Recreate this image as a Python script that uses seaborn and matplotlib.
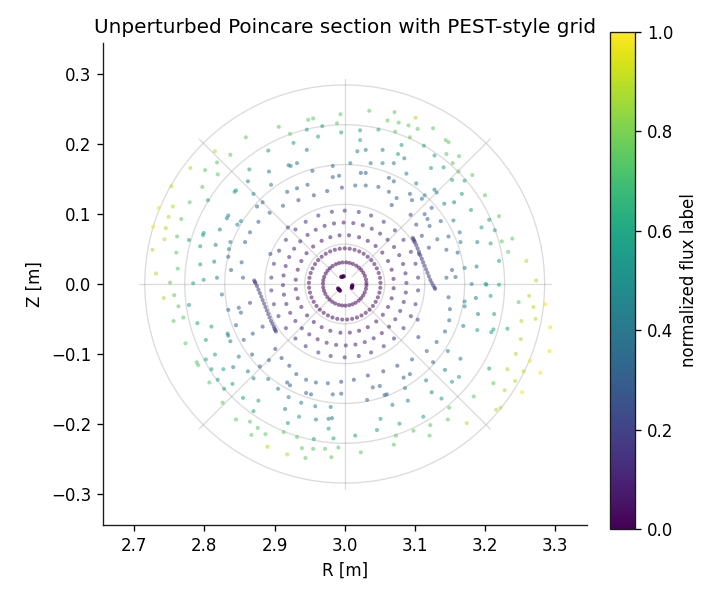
import numpy as np
import pandas as pd
import matplotlib
matplotlib.use("Agg")
import matplotlib.pyplot as plt
import seaborn as sns

# magnetic axis and minor radius of the PEST grid [m]
R_axis = 3.0
a_grid = 0.285
grid_rho = [0.2, 0.4, 0.6, 0.8, 1.0]
grid_theta_deg = [0, 45, 90, 135, 180, 225, 270, 315]

# 3-island chain close to the axis (flux label ~0)
island_R = [2.9948, 2.9955, 2.9962, 2.9969, 2.9976, 2.9983, 2.9990,
            2.9903, 2.9908, 2.9914, 2.9919, 2.9924, 2.9930, 2.9935,
            3.0110, 3.0109, 3.0107, 3.0105, 3.0103, 3.0101, 3.0100]
island_Z = [0.0100, 0.0102, 0.0104, 0.0106, 0.0108, 0.0109, 0.0110,
            -0.0062, -0.0068, -0.0074, -0.0080, -0.0086, -0.0092, -0.0098,
            -0.0015, -0.0022, -0.0030, -0.0037, -0.0044, -0.0052, -0.0060]
island_psi = 0.0

# inner closed surfaces: minor radius, flux label, poloidal angles of punctures [deg]
ringA_r, ringA_psi = 0.031, 0.015
ringA_theta = [3, 12, 22, 31, 40, 49, 58, 68, 77, 86, 96, 105, 114, 124, 133, 142,
               151, 161, 170, 179, 189, 198, 207, 217, 226, 235, 244, 254, 263, 272,
               282, 291, 300, 310, 319, 328, 337, 347, 356]
ringB_r, ringB_psi = 0.051, 0.035
ringB_theta = [2, 10, 18, 26, 34, 42, 50, 58, 66, 74, 82, 90, 98, 106, 114, 122, 130,
               138, 146, 154, 162, 170, 178, 186, 194, 202, 210, 218, 226, 234, 242,
               250, 258, 266, 274, 282, 290, 298, 306, 314, 322, 330, 338, 346, 354]
ringC_r, ringC_psi = 0.070, 0.06
ringC_theta = [6, 17, 28, 40, 51, 62, 73, 85, 96, 107, 118, 130, 141, 152, 163, 175,
               186, 197, 208, 220, 231, 242, 253, 265, 276, 287, 298, 310, 321, 332,
               343, 355]
ringD_r, ringD_psi = 0.088, 0.095
ringD_theta = [1, 10, 19, 28, 37, 46, 55, 64, 73, 82, 91, 100, 109, 118, 127, 136,
               145, 154, 163, 172, 181, 190, 199, 208, 217, 226, 235, 244, 253, 262,
               271, 280, 289, 298, 307, 316, 325, 334, 343, 352]
ringE_r, ringE_psi = 0.105, 0.135
ringE_theta = [5, 16, 26, 37, 47, 58, 69, 79, 90, 100, 111, 122, 132, 143, 153, 164,
               175, 185, 196, 206, 217, 228, 238, 249, 259, 270, 281, 291, 302, 312,
               323, 334, 344, 355]

# two slow strands near the 2-island separatrix
strand_psi = 0.18
strand_R = [3.097, 3.098, 3.099, 3.100, 3.102, 3.104, 3.106, 3.108, 3.110, 3.112,
            3.114, 3.116, 3.118, 3.120, 3.122, 3.124, 3.126, 3.128, 3.129,
            2.871, 2.872, 2.873, 2.875, 2.877, 2.879, 2.881, 2.883, 2.885, 2.887,
            2.889, 2.891, 2.893, 2.895, 2.897, 2.899, 2.900, 2.901, 2.902]
strand_Z = [0.066, 0.064, 0.062, 0.060, 0.056, 0.051, 0.046, 0.041, 0.036, 0.031,
            0.026, 0.021, 0.016, 0.011, 0.006, 0.002, -0.002, -0.005, -0.007,
            0.005, 0.003, 0.001, -0.003, -0.008, -0.013, -0.018, -0.023, -0.028, -0.033,
            -0.038, -0.043, -0.048, -0.053, -0.057, -0.061, -0.064, -0.066, -0.068]

# outer punctures, grouped by flux label
R_psi22 = [2.996, 2.975, 2.956, 2.934, 3.067, 3.094, 3.102, 3.120, 3.106, 3.110, 2.865,
           2.883, 2.910, 2.901, 2.921, 2.995, 3.075, 3.055, 3.033, 3.013, 3.105, 3.104,
           2.894, 2.919]
Z_psi22 = [0.138, 0.133, 0.127, 0.120, 0.113, 0.099, 0.085, 0.052, 0.043, 0.069, -0.027,
           -0.061, -0.106, -0.093, -0.117, -0.140, -0.117, -0.125, -0.131, -0.137, -0.076, -0.051,
           0.043, 0.081]

R_psi32 = [2.983, 2.954, 3.023, 3.030, 2.983, 2.992, 3.063, 2.947, 3.015, 3.030, 3.048,
           3.070, 2.932, 2.918, 3.063, 3.093, 2.883, 3.074, 3.096, 3.110, 2.875, 2.912,
           3.124, 2.893, 2.877, 2.865, 3.137, 3.118, 3.114, 3.121, 2.858, 3.153, 3.158,
           3.148, 3.132, 3.145, 3.161, 3.145, 2.834, 2.838, 2.853, 2.855, 2.845, 2.834,
           2.849, 2.852, 2.868, 2.869, 2.856, 2.922, 2.918, 2.892, 2.879, 2.945, 2.945,
           2.952, 2.931, 2.995, 2.983, 2.976, 2.959, 3.150, 3.148, 3.149, 3.143, 3.131,
           3.126, 3.032, 3.057, 3.060, 3.084, 3.093, 3.050, 3.040, 3.096, 3.117]
Z_psi32 = [0.169, 0.162, 0.159, 0.159, 0.153, 0.155, 0.152, 0.142, 0.141, 0.141, 0.139,
           0.147, 0.137, 0.132, 0.132, 0.129, 0.117, 0.123, 0.120, 0.122, 0.111, 0.112,
           0.109, 0.102, 0.089, 0.074, 0.090, 0.093, 0.100, 0.083, 0.060, 0.020, 0.010,
           0.068, 0.064, 0.049, 0.045, 0.009, 0.039, 0.020, 0.031, 0.009, -0.059, -0.037,
           -0.034, -0.041, -0.101, -0.071, -0.080, -0.145, -0.141, -0.109, -0.118, -0.156, -0.137,
           -0.158, -0.129, -0.157, -0.158, -0.142, -0.141, -0.036, -0.019, -0.052, -0.068, -0.083,
           -0.112, -0.166, -0.159, -0.158, -0.134, -0.129, -0.146, -0.148, -0.108, -0.096]

R_psi45 = [2.946, 3.018, 3.030, 3.054, 3.085, 2.920, 2.923, 2.932, 3.008, 3.037, 3.054,
           3.070, 2.892, 3.088, 2.862, 2.895, 3.102, 3.128, 3.131, 2.870, 3.114, 3.156,
           3.142, 2.832, 2.834, 2.852, 2.822, 2.847, 3.155, 3.164, 2.816, 2.837, 3.189,
           3.171, 3.188, 3.165, 2.814, 2.818, 2.835, 3.181, 2.825, 2.833, 2.834, 2.837,
           2.841, 2.849, 2.862, 2.870, 2.891, 2.905, 2.915, 2.920, 2.938, 2.958, 2.959,
           2.977, 2.982, 2.980, 3.187, 3.171, 3.171, 3.169, 3.190, 3.147, 3.143, 3.165,
           3.124, 3.068, 3.090, 3.086, 3.116]
Z_psi45 = [0.192, 0.190, 0.192, 0.192, 0.180, 0.170, 0.169, 0.173, 0.173, 0.173, 0.173,
           0.173, 0.161, 0.158, 0.147, 0.142, 0.144, 0.135, 0.131, 0.129, 0.127, 0.117,
           0.115, 0.094, 0.098, 0.090, 0.078, 0.085, 0.091, 0.074, 0.056, 0.060, 0.060,
           0.023, 0.025, 0.060, 0.032, 0.009, 0.050, 0.000, -0.015, -0.071, -0.074, -0.082,
           -0.119, -0.104, -0.125, -0.135, -0.136, -0.150, -0.179, -0.162, -0.170, -0.175, -0.194,
           -0.193, -0.192, -0.176, -0.020, -0.025, -0.032, -0.060, -0.043, -0.096, -0.123, -0.107,
           -0.155, -0.173, -0.167, -0.149, -0.138]

R_psi58 = [2.968, 3.022, 3.048, 2.946, 2.995, 2.962, 3.022, 2.927, 3.081, 3.113, 2.891,
           3.076, 3.128, 2.864, 3.123, 3.141, 3.153, 3.171, 2.845, 2.843, 3.167, 2.805,
           3.180, 3.206, 3.195, 3.214, 2.778, 2.799, 2.798, 3.220, 3.208, 3.201, 2.794,
           2.784, 2.794, 2.799, 3.202, 3.220, 2.778, 2.790, 2.810, 2.802, 2.802, 2.815,
           2.810, 2.827, 2.819, 2.828, 2.840, 2.855, 2.877, 2.870, 2.919, 2.935, 2.956,
           2.977, 2.984, 3.232, 3.206, 3.208, 3.213, 3.209, 3.212, 3.189, 3.163, 3.153,
           3.138, 3.112, 3.078, 3.051, 3.046, 3.015]
Z_psi58 = [0.226, 0.220, 0.221, 0.221, 0.217, 0.211, 0.206, 0.202, 0.199, 0.198, 0.191,
           0.186, 0.184, 0.164, 0.166, 0.167, 0.149, 0.148, 0.134, 0.132, 0.129, 0.120,
           0.106, 0.092, 0.081, 0.077, 0.063, 0.073, 0.070, 0.033, 0.058, 0.000, 0.054,
           0.001, 0.028, 0.006, -0.001, -0.001, -0.030, -0.056, -0.061, -0.080, -0.108, -0.101,
           -0.122, -0.122, -0.137, -0.150, -0.143, -0.163, -0.167, -0.182, -0.199, -0.190, -0.222,
           -0.207, -0.221, -0.064, -0.121, -0.017, -0.043, -0.069, -0.065, -0.066, -0.133, -0.140,
           -0.164, -0.190, -0.200, -0.193, -0.209, -0.217]

R_psi75 = [3.035, 3.071, 2.994, 2.948, 2.955, 3.061, 3.077, 3.091, 2.989, 2.906, 3.104,
           3.126, 3.072, 2.922, 3.093, 2.859, 3.144, 3.148, 2.837, 3.145, 3.163, 2.818,
           3.154, 2.801, 3.162, 3.182, 2.819, 2.797, 3.200, 2.779, 2.767, 3.220, 2.761,
           3.233, 3.239, 3.224, 2.760, 2.762, 2.751, 2.757, 2.763, 2.756, 2.770, 2.773,
           2.789, 2.791, 2.807, 2.826, 2.845, 2.865, 2.876, 2.887, 2.867, 2.913, 2.932,
           2.939, 2.955, 2.944, 2.972, 2.991, 2.981, 3.248, 3.212, 3.149, 3.147, 3.184,
           3.122, 3.121, 3.098, 3.073, 3.070, 3.023]
Z_psi75 = [0.248, 0.246, 0.243, 0.235, 0.237, 0.234, 0.231, 0.227, 0.230, 0.225, 0.222,
           0.223, 0.218, 0.215, 0.210, 0.210, 0.206, 0.203, 0.185, 0.186, 0.183, 0.174,
           0.173, 0.163, 0.161, 0.156, 0.157, 0.139, 0.127, 0.117, 0.093, 0.097, 0.068,
           0.046, 0.065, 0.061, 0.045, 0.022, 0.002, -0.016, -0.032, -0.053, -0.048, -0.085,
           -0.112, -0.116, -0.141, -0.170, -0.194, -0.197, -0.206, -0.215, -0.216, -0.212, -0.219,
           -0.235, -0.236, -0.249, -0.236, -0.234, -0.248, -0.026, -0.142, -0.177, -0.194, -0.161,
           -0.202, -0.217, -0.210, -0.217, -0.230, -0.241]

R_psi88 = [3.101, 2.815, 2.780, 2.753, 2.755, 2.749, 2.745, 2.743, 3.259, 3.273, 2.726,
           2.731, 2.742, 2.890, 2.918, 3.263, 3.269, 3.272, 3.252, 3.251, 3.244, 3.255,
           3.232, 3.243, 3.228, 3.216, 3.222, 3.174]
Z_psi88 = [0.238, 0.190, 0.166, 0.140, 0.111, 0.096, 0.080, 0.064, 0.033, 0.005, 0.049,
           0.015, -0.020, -0.233, -0.244, -0.017, -0.033, -0.050, -0.053, -0.079, -0.100, -0.125,
           -0.122, -0.139, -0.152, -0.180, -0.177, -0.199]

R_psi97 = [2.735, 2.727, 3.286, 3.293, 3.264, 3.292, 3.279, 3.253]
Z_psi97 = [0.109, 0.082, -0.029, -0.062, -0.110, -0.096, -0.127, -0.155]


def ring_frame(r, psi, theta_deg):
    th = np.deg2rad(theta_deg)
    return pd.DataFrame({"R": R_axis + r * np.cos(th), "Z": r * np.sin(th), "psi": psi})


def point_frame(R, Z, psi):
    return pd.DataFrame({"R": R, "Z": Z, "psi": psi})


df = pd.concat([
    point_frame(island_R, island_Z, island_psi),
    ring_frame(ringA_r, ringA_psi, ringA_theta),
    ring_frame(ringB_r, ringB_psi, ringB_theta),
    ring_frame(ringC_r, ringC_psi, ringC_theta),
    ring_frame(ringD_r, ringD_psi, ringD_theta),
    ring_frame(ringE_r, ringE_psi, ringE_theta),
    point_frame(strand_R, strand_Z, strand_psi),
    point_frame(R_psi22, Z_psi22, 0.22),
    point_frame(R_psi32, Z_psi32, 0.32),
    point_frame(R_psi45, Z_psi45, 0.45),
    point_frame(R_psi58, Z_psi58, 0.58),
    point_frame(R_psi75, Z_psi75, 0.75),
    point_frame(R_psi88, Z_psi88, 0.88),
    point_frame(R_psi97, Z_psi97, 0.97),
], ignore_index=True)

sns.set_style("ticks", {"axes.edgecolor": "0.1", "text.color": "black",
                        "axes.labelcolor": "black", "xtick.color": "black",
                        "ytick.color": "black"})
plt.rcParams["font.family"] = ["DejaVu Sans"]

fig = plt.figure(figsize=(721 / 120, 601 / 120), dpi=120)
ax = fig.add_axes([102.7 / 721, (601 - 525) / 601, 484 / 721, 482 / 601])
cax = fig.add_axes([610 / 721, (601 - 529) / 601, 25 / 721, 497 / 601])

# PEST-style grid: flux circles and straight-field-line rays
t = np.linspace(0, 2 * np.pi, 400)
for rho in grid_rho:
    ax.plot(R_axis + rho * a_grid * np.cos(t), rho * a_grid * np.sin(t),
            color="0.55", lw=0.8, alpha=0.3, zorder=0)
for th in np.deg2rad(grid_theta_deg):
    rr = np.array([0.05, 1.03]) * a_grid
    ax.plot(R_axis + rr * np.cos(th), rr * np.sin(th),
            color="0.55", lw=0.8, alpha=0.3, zorder=0)

sns.scatterplot(data=df, x="R", y="Z", hue="psi", palette="viridis",
                hue_norm=(0, 1), s=6, alpha=0.55, linewidth=0,
                legend=False, ax=ax, zorder=2)

ax.set_xlim(2.655, 3.345)
ax.set_ylim(-0.345, 0.345)
ax.set_xticks([2.7, 2.8, 2.9, 3.0, 3.1, 3.2, 3.3])
ax.set_yticks([-0.3, -0.2, -0.1, 0.0, 0.1, 0.2, 0.3])
ax.set_xlabel("R [m]")
ax.set_ylabel("Z [m]")
ax.set_title("Unperturbed Poincare section with PEST-style grid")
sns.despine(ax=ax)

sm = plt.cm.ScalarMappable(cmap="viridis", norm=plt.Normalize(0, 1))
cb = fig.colorbar(sm, cax=cax)
cb.set_label("normalized flux label")
cb.outline.set_edgecolor("0.1")

fig.savefig("out.png", dpi=120)
